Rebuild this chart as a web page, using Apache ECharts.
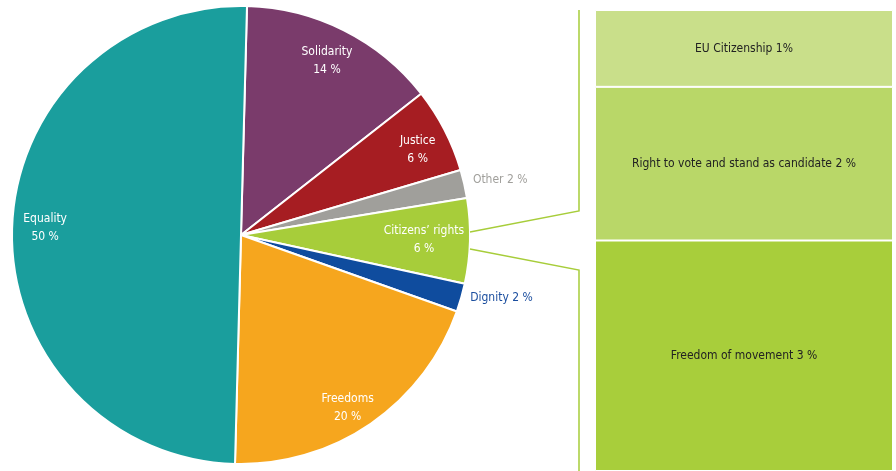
<!DOCTYPE html>
<html>
<head>
<meta charset="utf-8">
<script src="https://cdn.jsdelivr.net/npm/echarts@6/dist/echarts.min.js"></script>
<style>
html,body{margin:0;padding:0;background:#fff;}
#chart{width:896px;height:471px;}
</style>
</head>
<body>
<div id="chart"></div>
<script>
// ---- data ----
const pieNames  = ['Solidarity', 'Justice', 'Other', "Citizens’ rights", 'Dignity', 'Freedoms', 'Equality'];
const pieValues = [14, 6, 2, 6, 2, 20, 50];
const pieColors = ['#7a3b6b', '#a61d22', '#a09f9b', '#a7cd3a', '#0f4c9e', '#f6a61e', '#1a9e9d'];
const outsideLabelled = ['Other', 'Dignity'];

const boxNames  = ['EU Citizenship', 'Right to vote and stand as candidate', 'Freedom of movement'];
const boxValues = [1, 2, 3];
const boxLabels = ['EU Citizenship 1%', 'Right to vote and stand as candidate 2 %', 'Freedom of movement 3 %'];
const boxColors = ['#c9df8a', '#b9d768', '#a8ce3b'];

// ---- layout / style ----
const FONT = "'Liberation Sans Narrow', 'Arial Narrow', 'DejaVu Sans Condensed', sans-serif";
const CX = 241, CY = 235, R = 229, START = 88.5;
// label placement: [angle clockwise from 12 o'clock (deg), distance from centre (px)]
const labelPolar = [[26.3, 194], [64.3, 196], [78, 265], [91.6, 183], [103.6, 268], [148.3, 203], [272, 196]];
const outsideLabelColors = {'Other': '#a09f9b', 'Dignity': '#1a4d9e'};

const chart = echarts.init(document.getElementById('chart'), null, {renderer: 'canvas'});

const pieData = pieNames.map((n, i) => {
  const outside = outsideLabelled.indexOf(n) >= 0;
  return {
    name: n, value: pieValues[i], itemStyle: {color: pieColors[i]},
    label: outside ? {formatter: '{b} {c} %', color: outsideLabelColors[n]} : {}
  };
});

const series = [{
  type: 'pie', center: [CX, CY], radius: [0, R], startAngle: START, clockwise: true,
  data: pieData,
  label: {show: true, position: 'inside', formatter: '{b}\n{c} %', color: '#fff',
          fontFamily: FONT, fontSize: 12, lineHeight: 18, align: 'center'},
  labelLine: {show: false},
  labelLayout: function (p) {
    const lp = labelPolar[p.dataIndex];
    const a = lp[0] * Math.PI / 180;
    return {x: CX + lp[1] * Math.sin(a), y: CY - lp[1] * Math.cos(a), align: 'center', verticalAlign: 'middle'};
  },
  itemStyle: {borderColor: '#fff', borderWidth: 2},
  emphasis: {disabled: true}, silent: true, animation: false
}];

boxNames.forEach((n, i) => {
  series.push({
    type: 'bar', name: n, stack: 'cit', xAxisIndex: 0, yAxisIndex: 0,
    data: [boxValues[i]], barWidth: '100%',
    itemStyle: {color: boxColors[i], borderColor: '#fff', borderWidth: 1},
    label: {show: true, position: 'inside', formatter: boxLabels[i], color: '#222',
            fontFamily: FONT, fontSize: 12},
    emphasis: {disabled: true}, silent: true, animation: false
  });
});

const LINE = '#a7cd3a';
chart.setOption({
  animation: false,
  grid: {left: 595, top: 10, width: 298, bottom: 0, containLabel: false},
  xAxis: {type: 'category', data: ['Citizens’ rights'], show: false, boundaryGap: true},
  yAxis: {type: 'value', min: 0, max: 6, inverse: true, show: false},
  series: series,
  graphic: [
    {type: 'polyline', shape: {points: [[470, 232], [579, 211], [579, 10]]},
     style: {stroke: LINE, lineWidth: 1.5, fill: null}, silent: true, z: 10},
    {type: 'polyline', shape: {points: [[470, 249], [579, 270], [579, 471]]},
     style: {stroke: LINE, lineWidth: 1.5, fill: null}, silent: true, z: 10}
  ]
});
</script>
</body>
</html>
